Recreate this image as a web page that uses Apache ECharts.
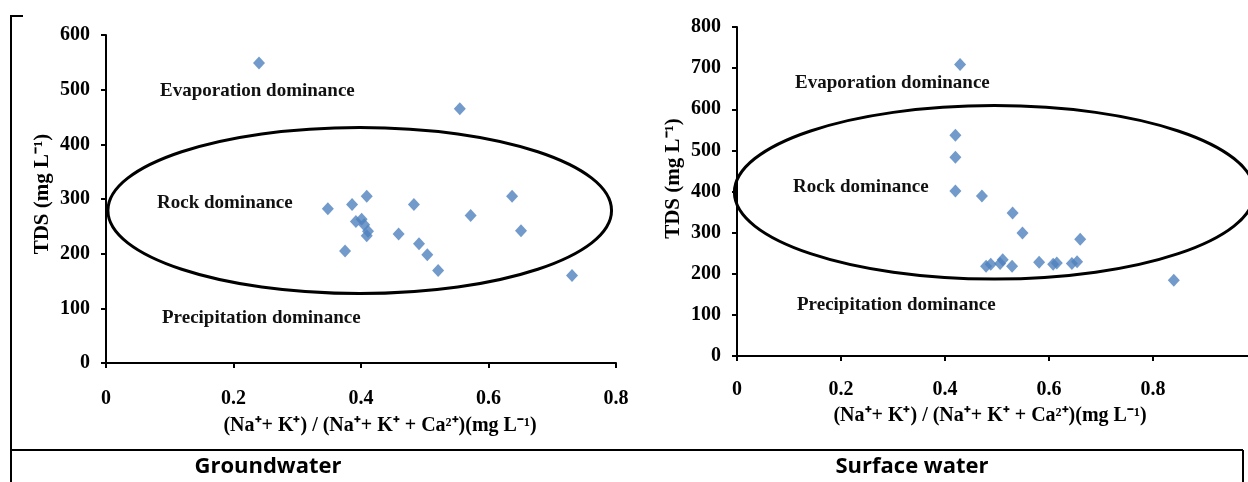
<!DOCTYPE html>
<html>
<head>
<meta charset="utf-8">
<script src="https://cdn.jsdelivr.net/npm/echarts@6/dist/echarts.min.js"></script>
<style>
html, body { margin: 0; padding: 0; background: #fff; }
#chart { width: 1248px; height: 482px; }
</style>
</head>
<body>
<div id="chart"></div>
<script>
// Gibbs plot: (Na+K)/(Na+K+Ca) vs TDS
var gwRatio = [0.24, 0.555, 0.348, 0.386, 0.409, 0.483, 0.572, 0.637, 0.651, 0.392,
               0.401, 0.405, 0.411, 0.409, 0.459, 0.491, 0.504, 0.521, 0.375, 0.731];
var gwTDS   = [549, 465, 282, 290, 305, 290, 270, 305, 242, 259,
               263, 253, 241, 233, 236, 218, 198, 169, 205, 160];

var swRatio = [0.429, 0.42, 0.42, 0.42, 0.471, 0.53, 0.549, 0.66, 0.84, 0.479,
               0.488, 0.506, 0.511, 0.529, 0.581, 0.608, 0.615, 0.644, 0.654];
var swTDS   = [709, 537, 483, 401, 389, 348, 299, 284, 184, 218,
               223, 225, 234, 218, 228, 223, 226, 225, 229];

var gwTicksY = [0, 600, 100];   // min, max, interval
var swTicksY = [0, 800, 100];
var gwTicksX = [0, 0.8, 0.2];
var swTicksX = [0, 1.0, 0.2];

// ellipse (rock dominance zone) in data units: cx, cy, rx, ry
var gwZone = [0.398, 279, 0.395, 152];
var swZone = [0.495, 398, 0.5, 211];

var serif = '"Liberation Serif", "Times New Roman", serif';
var xName = '(Na\u207A+ K\u207A) / (Na\u207A+ K\u207A + Ca\u00B2\u207A)(mg L\u207B\u00B9)';
var yName = 'TDS (mg L\u207B\u00B9)';

function pairs(xs, ys) {
    var out = [];
    for (var i = 0; i < xs.length; i++) out.push([xs[i], ys[i]]);
    return out;
}

function xAxisOf(idx, ticks, margin, gap, pad) {
    return {
        type: 'value', gridIndex: idx,
        min: ticks[0], max: ticks[1], interval: ticks[2],
        name: xName, nameLocation: 'middle', nameGap: gap,
        nameTextStyle: { fontFamily: serif, fontWeight: 'bold', fontSize: 20, color: '#000', padding: pad },
        axisLine: { onZero: false, lineStyle: { color: '#000', width: 2 } },
        axisTick: { length: 5, lineStyle: { color: '#000', width: 2 } },
        axisLabel: { margin: margin, fontFamily: serif, fontWeight: 'bold', fontSize: 20, color: '#000' },
        splitLine: { show: false }
    };
}

function yAxisOf(idx, ticks, pad) {
    return {
        type: 'value', gridIndex: idx,
        min: ticks[0], max: ticks[1], interval: ticks[2],
        name: yName, nameLocation: 'middle', nameGap: 53,
        nameTextStyle: { fontFamily: serif, fontWeight: 'bold', fontSize: 21, color: '#000', padding: pad },
        axisLine: { show: true, lineStyle: { color: '#000', width: 2 } },
        axisTick: { show: true, length: 5, lineStyle: { color: '#000', width: 2 } },
        axisLabel: { margin: 16, fontFamily: serif, fontWeight: 'bold', fontSize: 20, color: '#000' },
        splitLine: { show: false }
    };
}

var myChart = echarts.init(document.getElementById('chart'), null, { renderer: 'canvas' });

var option = {
    animation: false,
    backgroundColor: '#fff',
    grid: [
        { left: 106, top: 35, width: 510, height: 328, outerBoundsMode: 'none' },
        { left: 737, top: 27, width: 520, height: 329, outerBoundsMode: 'none' }
    ],
    xAxis: [
        xAxisOf(0, gwTicksX, 26, 53, [0, 0, 0, 38]),
        xAxisOf(1, swTicksX, 24, 50, [0, 14, 0, 0])
    ],
    yAxis: [
        yAxisOf(0, gwTicksY, [0, 0, 0, 10]),
        yAxisOf(1, swTicksY, [0, 0, 0, 26])
    ],
    series: [
        {
            name: 'Groundwater', type: 'scatter', xAxisIndex: 0, yAxisIndex: 0,
            symbol: 'diamond', symbolSize: [12, 13],
            itemStyle: { color: '#4F81BD' },
            data: pairs(gwRatio, gwTDS)
        },
        {
            name: 'Surface water', type: 'scatter', xAxisIndex: 1, yAxisIndex: 1,
            symbol: 'diamond', symbolSize: [12, 13],
            itemStyle: { color: '#4F81BD' },
            data: pairs(swRatio, swTDS)
        }
    ]
};
myChart.setOption(option);

// zone ellipses placed through the axes
function zone(gridIndex, z) {
    var c = myChart.convertToPixel({ gridIndex: gridIndex }, [z[0], z[1]]);
    var e = myChart.convertToPixel({ gridIndex: gridIndex }, [z[0] + z[2], z[1] + z[3]]);
    return {
        type: 'ellipse', z: 1, silent: true,
        shape: { cx: c[0], cy: c[1], rx: Math.abs(e[0] - c[0]), ry: Math.abs(c[1] - e[1]) },
        style: { fill: 'none', stroke: '#000', lineWidth: 3 }
    };
}

function note(x, y, text) {
    return {
        type: 'text', left: x, top: y, z: 5,
        style: { text: text, font: 'bold 19px ' + serif, fill: '#111' }
    };
}

function rule(x1, y1, x2, y2) {
    return {
        type: 'line', silent: true,
        shape: { x1: x1, y1: y1, x2: x2, y2: y2 },
        style: { stroke: '#000', lineWidth: 2 }
    };
}

myChart.setOption({
    graphic: [
        zone(0, gwZone),
        zone(1, swZone),
        note(160, 82, 'Evaporation dominance'),
        note(157, 194, 'Rock dominance'),
        note(162, 309, 'Precipitation dominance'),
        note(795, 74, 'Evaporation dominance'),
        note(793, 178, 'Rock dominance'),
        note(797, 296, 'Precipitation dominance'),
        rule(11, 16, 11, 482),
        rule(10, 16, 23, 16),
        rule(10, 450, 1243, 450),
        rule(1243, 450, 1243, 482),
        {
            type: 'text', x: 268, y: 467,
            style: { text: 'Groundwater', font: 'bold 22px "Open Sans", sans-serif', fill: '#000',
                     textAlign: 'center', textVerticalAlign: 'middle' }
        },
        {
            type: 'text', x: 912, y: 467,
            style: { text: 'Surface water', font: 'bold 22px "Open Sans", sans-serif', fill: '#000',
                     textAlign: 'center', textVerticalAlign: 'middle' }
        }
    ]
});
</script>
</body>
</html>
